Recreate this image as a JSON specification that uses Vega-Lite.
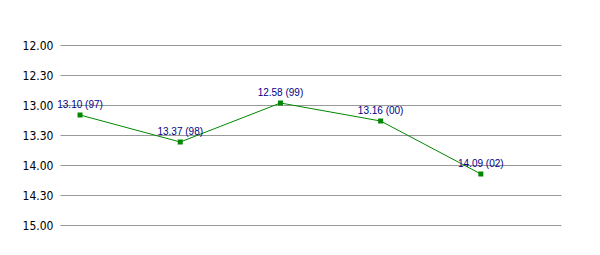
{
  "$schema": "https://vega.github.io/schema/vega-lite/v6.json",
  "autosize": {"type": "none"},
  "padding": {"left": 60, "top": 45, "right": 39, "bottom": 30},
  "width": 501,
  "height": 180,
  "background": "white",
  "data": {"values": [
    {"year": "97", "seconds": 790, "label": "13.10 (97)"},
    {"year": "98", "seconds": 817, "label": "13.37 (98)"},
    {"year": "99", "seconds": 778, "label": "12.58 (99)"},
    {"year": "00", "seconds": 796, "label": "13.16 (00)"},
    {"year": "02", "seconds": 849, "label": "14.09 (02)"}
  ]},
  "config": {"view": {"stroke": null}},
  "encoding": {
    "x": {"field": "year", "type": "ordinal", "sort": null,
          "scale": {"type": "point", "padding": 0.5, "align": 0.2}, "axis": null},
    "y": {"field": "seconds", "type": "quantitative",
          "scale": {"domain": [720, 900], "reverse": true, "nice": false, "zero": false},
          "axis": {"values": [720, 750, 780, 810, 840, 870, 900], "title": null,
                   "labelExpr": "floor(datum.value/60) + '.' + (datum.value%60 < 10 ? '0' : '') + (datum.value%60)",
                   "domain": false, "ticks": false, "labelPadding": 7,
                   "labelFont": "DejaVu Sans Condensed, Liberation Sans", "labelFontSize": 12, "labelColor": "#000000",
                   "grid": true, "gridColor": "#999999", "gridWidth": 1, "gridOpacity": 1}}
  },
  "layer": [
    {"mark": {"type": "line", "color": "#008800", "strokeWidth": 1}},
    {"mark": {"type": "point", "shape": "square", "filled": true, "size": 25, "color": "#008800", "opacity": 1}},
    {"mark": {"type": "text", "baseline": "alphabetic", "dy": -7, "font": "Liberation Sans", "fontSize": 10, "color": "#000088"},
     "encoding": {"text": {"field": "label"}}}
  ]
}
